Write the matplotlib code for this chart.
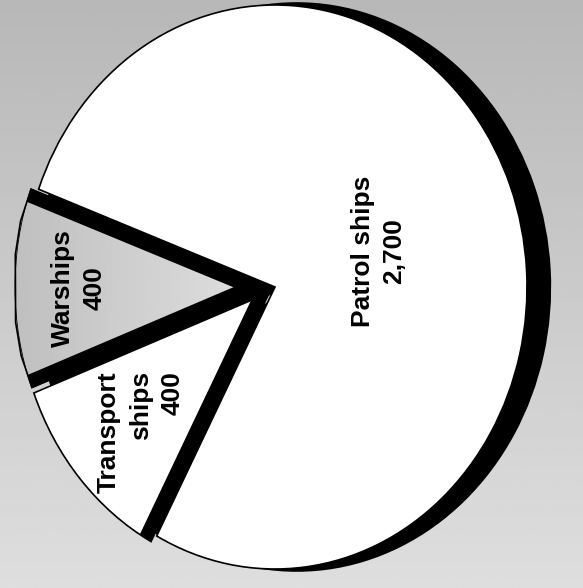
import numpy as np
import matplotlib
matplotlib.use("Agg")

import matplotlib.pyplot as plt

# Datos
categorias = ["Patrol ships", "Warships", "Transport ships"]
valores = [2700, 400, 400]
textos = ["Patrol ships\n2,700", "Warships\n400", "Transport\nships\n400"]
colores = ["white", "#cdcdcd", "white"]
separacion = [0.0, 0.03, 0.03]

inicio = -118
ancho_px, alto_px = 583, 588
centro_px = (275, 287)
radio_x, radio_y = 252, 282

plt.rcParams["font.family"] = ["Liberation Sans", "DejaVu Sans"]

fig = plt.figure(figsize=(ancho_px / 100, alto_px / 100), dpi=100)
ax = fig.add_axes([0, 0, 1, 1])

xmin = -centro_px[0] / radio_x
xmax = (ancho_px - centro_px[0]) / radio_x
ymax = centro_px[1] / radio_y
ymin = -(alto_px - centro_px[1]) / radio_y

# fondo gris (papel escaneado)
fondo = np.linspace(0.72, 0.87, 200).reshape(-1, 1) * np.ones((1, 2))
ax.imshow(fondo, extent=(xmin, xmax, ymin, ymax), cmap="gray", vmin=0, vmax=1,
          aspect="auto", origin="upper", zorder=0)

# sombra negra desplazada a la derecha
ax.pie(valores, explode=separacion, colors=["black"] * 3, startangle=inicio,
       center=(0.086, 0.0), radius=1.01, wedgeprops=dict(linewidth=0, zorder=1))

wedges, _ = ax.pie(valores, explode=separacion, colors=colores, startangle=inicio,
                   wedgeprops=dict(edgecolor="black", linewidth=1.2, zorder=2))
for w in wedges:
    w.set_zorder(2)

# degradado gris en Warships
w = wedges[1]
degradado = np.linspace(0.74, 0.90, 200).reshape(1, -1) * np.ones((2, 1))
img = ax.imshow(degradado, extent=(-1.1, 0.1, -0.5, 0.5), cmap="gray", vmin=0, vmax=1,
                aspect="auto", zorder=2.5)
img.set_clip_path(w)


# bordes gruesos negros
def borde(w, ang):
    cx, cy = w.center
    t = np.deg2rad(ang)
    ln, = ax.plot([cx, cx + w.r * np.cos(t)], [cy, cy + w.r * np.sin(t)],
                  color="black", lw=19, solid_capstyle="butt", zorder=3)
    ln.set_clip_path(w)


borde(wedges[1], wedges[1].theta1)
borde(wedges[1], wedges[1].theta2)
borde(wedges[2], wedges[2].theta2)

# contorno fino encima del degradado
ax.add_patch(plt.Polygon(wedges[1].get_path().vertices, closed=True, fill=False,
                         transform=wedges[1].get_transform(), lw=1.2,
                         edgecolor="black", zorder=3.5))

# etiquetas
distancias = [0.43, 0.78, 0.74]
giros = [-3.5, 0.0, 2.5]
alineacion = ["center", "center", "right"]
for w, txt, d, g, al in zip(wedges, textos, distancias, giros, alineacion):
    ang = np.deg2rad((w.theta1 + w.theta2) / 2 + g)
    ax.text(d * np.cos(ang), d * np.sin(ang), txt, rotation=90, ha="center",
            va="center", multialignment=al, fontsize=19, fontweight="bold",
            linespacing=1.4, zorder=5)

ax.set_xlim(xmin, xmax)
ax.set_ylim(ymin, ymax)
ax.set_aspect("auto")
ax.axis("off")

fig.savefig("out.png", dpi=100)
